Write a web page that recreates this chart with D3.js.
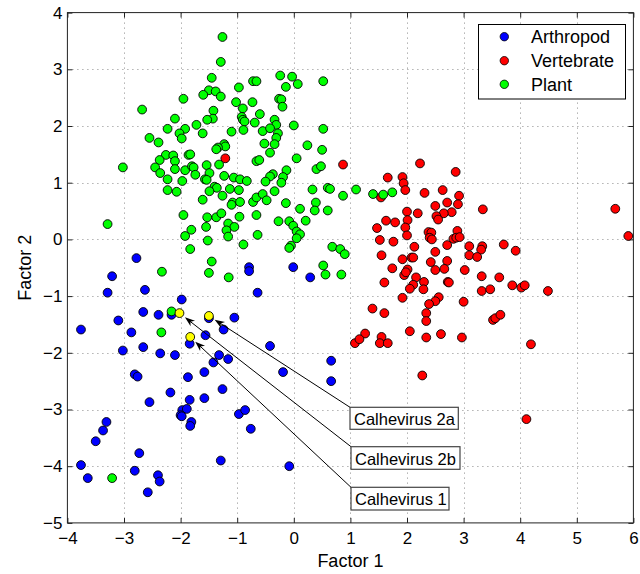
<!DOCTYPE html>
<html><head><meta charset="utf-8">
<script src="https://cdn.jsdelivr.net/npm/d3@7"></script>
<style>
body{margin:0;background:#fff;}
svg{display:block;font-family:"Liberation Sans",Arial,Helvetica,sans-serif;}
</style>
</head><body>
<svg id="chart" width="640" height="574"></svg>
<script>
const xTicks = [-4,-3,-2,-1,0,1,2,3,4,5,6];
const yTicks = [-5,-4,-3,-2,-1,0,1,2,3,4];
const xLabel = "Factor 1";
const yLabel = "Factor 2";
const seriesNames = ["Arthropod","Vertebrate","Plant"];
const seriesColors = ["#0000ff","#ff0000","#00ff00"];

const arthropod = [[-2.78,-0.33],[-3.21,-0.65],[-3.29,-0.94],[-2.63,-0.89],[-0.79,-0.49],[-0.79,-0.56],[-0.01,-0.49],[0.29,-0.67],[-0.64,-0.94],[-1.98,-1.06],[-2.66,-1.28],[-2.39,-1.33],[-2.16,-1.33],[-3.10,-1.43],[-1.05,-1.38],[-3.76,-1.59],[-2.87,-1.64],[-1.24,-1.59],[-1.56,-1.69],[-1.84,-1.84],[-0.42,-1.88],[-3.02,-1.96],[-2.66,-1.90],[-2.36,-2.01],[-2.10,-2.04],[-1.32,-2.04],[-1.16,-2.11],[-1.42,-2.17],[-1.58,-2.34],[-0.19,-2.34],[-2.81,-2.38],[-2.76,-2.42],[-1.87,-2.43],[-1.26,-2.64],[-2.18,-2.70],[-2.55,-2.87],[-1.84,-2.83],[-1.58,-2.80],[-1.97,-3.01],[-1.89,-2.99],[-2.00,-3.10],[-1.98,-3.12],[-1.81,-3.22],[-1.83,-3.29],[-0.97,-3.08],[-0.86,-3.01],[-0.76,-3.34],[-3.31,-3.22],[-3.37,-3.37],[-3.50,-3.56],[-2.73,-3.77],[-1.29,-3.90],[-3.76,-3.98],[-3.64,-4.21],[-2.81,-4.08],[-2.40,-4.16],[-2.37,-4.27],[-2.58,-4.46],[-0.08,-4.00],[0.66,-2.14],[0.66,-2.50],[-1.50,-1.39]];

const vertebrate = [[-1.21,1.43],[0.87,1.32],[2.23,1.34],[2.86,1.19],[1.66,1.09],[1.92,1.10],[1.94,0.99],[1.97,0.87],[1.54,0.74],[2.31,0.82],[2.63,0.87],[2.92,0.77],[2.90,0.62],[2.71,0.65],[2.50,0.59],[3.34,0.53],[2.00,0.49],[2.19,0.46],[2.79,0.48],[2.65,0.46],[2.52,0.41],[2.55,0.35],[5.68,0.54],[5.91,0.06],[2.01,0.34],[1.63,0.33],[1.79,0.30],[1.97,0.21],[1.47,0.20],[2.38,0.13],[2.43,0.12],[2.40,0.03],[2.44,0.00],[2.89,0.15],[2.82,0.01],[2.87,0.03],[2.93,0.04],[2.00,0.07],[1.52,-0.01],[1.76,-0.04],[2.71,-0.10],[3.10,-0.12],[3.33,-0.12],[3.31,-0.18],[3.71,-0.09],[3.92,-0.20],[2.13,-0.13],[2.50,-0.22],[1.55,-0.28],[2.08,-0.32],[2.11,-0.32],[1.92,-0.35],[3.10,-0.28],[3.24,-0.31],[2.71,-0.38],[2.42,-0.40],[2.01,-0.53],[1.74,-0.51],[2.50,-0.54],[2.66,-0.52],[3.02,-0.54],[1.95,-0.63],[1.98,-0.58],[2.16,-0.67],[3.32,-0.65],[3.63,-0.67],[1.60,-0.76],[2.30,-0.75],[2.72,-0.75],[2.74,-0.76],[2.11,-0.80],[2.05,-0.87],[2.29,-0.88],[3.32,-0.91],[3.47,-0.88],[3.86,-0.81],[4.02,-0.85],[4.08,-0.81],[4.49,-0.91],[1.92,-1.03],[2.56,-1.02],[2.50,-1.09],[2.39,-1.14],[3.00,-1.10],[1.39,-1.22],[1.60,-1.30],[2.34,-1.30],[2.34,-1.44],[3.52,-1.42],[3.56,-1.39],[3.65,-1.33],[1.26,-1.66],[2.05,-1.62],[1.55,-1.72],[1.52,-1.83],[1.66,-1.83],[2.34,-1.73],[2.60,-1.67],[2.97,-1.73],[4.19,-1.85],[1.08,-1.83],[1.16,-1.76],[2.27,-2.40],[4.11,-3.17]];

const plant = [[-1.26,3.57],[-1.29,3.13],[-1.45,2.85],[-1.50,2.63],[-1.38,2.61],[-1.60,2.55],[-1.29,2.52],[-1.95,2.48],[-0.97,2.68],[-1.02,2.42],[-0.73,2.42],[-0.72,2.79],[-0.66,2.79],[-0.90,2.31],[-1.42,2.27],[-1.43,2.13],[-1.53,2.11],[-0.92,2.16],[-0.90,2.11],[-0.87,2.08],[-0.69,2.06],[-0.60,2.21],[-2.68,2.29],[-2.10,2.13],[-2.23,1.95],[-1.92,1.95],[-1.72,2.02],[-2.02,1.87],[-1.98,1.78],[-1.61,1.87],[-0.89,1.93],[-1.10,1.90],[-2.55,1.79],[-2.39,1.71],[-1.23,1.68],[-1.21,1.64],[-1.34,1.62],[-1.37,1.59],[-1.86,1.49],[-1.83,1.50],[-1.32,1.32],[-1.54,1.31],[-0.66,1.38],[-0.61,1.40],[-2.26,1.49],[-2.13,1.48],[-2.10,1.38],[-2.37,1.40],[-3.02,1.27],[-2.45,1.27],[-2.10,1.24],[-1.92,1.22],[-1.80,1.29],[-1.77,1.27],[-1.74,1.14],[-2.36,1.17],[-1.49,1.17],[-1.23,1.12],[-1.57,1.06],[-1.54,1.05],[-1.97,1.03],[-2.23,1.06],[-1.06,1.09],[-0.95,1.06],[-0.83,1.03],[-0.14,2.69],[0.07,2.74],[0.52,2.79],[-0.24,2.89],[-0.03,2.87],[-0.26,2.48],[-0.22,2.47],[-0.20,2.34],[-0.34,2.11],[-0.31,2.02],[0.00,2.01],[0.52,1.95],[-0.55,1.91],[-0.42,1.96],[-0.28,1.87],[-0.31,1.79],[-0.52,1.69],[-0.34,1.68],[-0.42,1.53],[0.24,1.66],[0.50,1.58],[0.05,1.43],[0.40,1.24],[0.48,1.29],[-0.13,1.22],[-0.19,1.10],[-0.37,1.15],[-0.42,1.11],[-0.50,1.02],[-0.22,1.00],[0.33,0.88],[0.60,0.91],[0.64,0.89],[1.10,0.88],[1.74,0.83],[1.58,0.79],[1.40,0.80],[0.87,0.77],[-2.23,0.87],[-2.07,0.84],[-1.40,0.93],[-1.36,0.91],[-1.49,0.85],[-1.26,0.77],[-1.13,0.89],[-0.97,0.87],[-1.61,0.70],[-1.08,0.65],[-1.10,0.61],[-0.95,0.66],[-0.72,0.66],[-0.66,0.74],[-0.55,0.80],[-0.48,0.69],[-0.34,0.85],[-0.14,0.64],[0.11,0.54],[0.39,0.65],[0.37,0.51],[0.60,0.51],[-1.95,0.43],[-1.53,0.39],[-1.37,0.39],[-1.28,0.46],[-0.96,0.40],[-0.66,0.43],[-1.16,0.28],[-1.05,0.22],[-1.55,0.22],[-1.81,0.17],[-1.92,0.06],[-1.19,0.16],[-1.16,0.05],[-1.52,-0.02],[-0.64,0.08],[-0.89,-0.09],[-0.27,0.32],[-0.08,0.32],[-0.01,0.24],[0.05,0.14],[0.11,0.09],[0.05,0.02],[0.21,0.33],[-0.05,-0.11],[-0.08,-0.15],[-1.83,-0.17],[0.68,-0.13],[0.82,-0.17],[0.90,-0.26],[0.52,-0.46],[0.56,-0.62],[0.84,-0.62],[-1.45,-0.39],[-2.33,-0.57],[-1.50,-0.59],[-1.15,-0.67],[-2.16,-1.27],[-2.34,-1.64],[-3.29,0.27],[-3.21,-4.21]];

const virusNames = ["Calhevirus 2a","Calhevirus 2b","Calhevirus 1"];
const virusPts = [[-1.50,-1.35],[-2.02,-1.30],[-1.83,-1.72]];

const W = 640, H = 574;
const L = 67.4, R = 633.4, T = 12.6, B = 522.9;
const svg = d3.select("#chart");
svg.append("rect").attr("width",W).attr("height",H).attr("fill","#fff");

const x = d3.scaleLinear().domain([-4,6]).range([L,R]);
const y = d3.scaleLinear().domain([-5,4]).range([B,T]);

// grid
const grid = svg.append("g").attr("stroke","#8a8a8a").attr("stroke-width",1).attr("stroke-dasharray","1,4");
grid.selectAll("line.v").data(xTicks.slice(1,-1)).join("line")
  .attr("x1",d=>Math.round(x(d))+0.5).attr("x2",d=>Math.round(x(d))+0.5).attr("y1",T).attr("y2",B);
grid.selectAll("line.h").data(yTicks.slice(1,-1)).join("line")
  .attr("y1",d=>Math.round(y(d))+0.5).attr("y2",d=>Math.round(y(d))+0.5).attr("x1",L).attr("x2",R);

// axes
const fmt = d3.format("d");
const axB = svg.append("g").attr("transform",`translate(0,${B})`)
  .call(d3.axisBottom(x).tickValues(xTicks).tickSizeInner(-5).tickSizeOuter(0).tickPadding(9).tickFormat(fmt));
const axL = svg.append("g").attr("transform",`translate(${L},0)`)
  .call(d3.axisLeft(y).tickValues(yTicks).tickSizeInner(-5).tickSizeOuter(0).tickPadding(5).tickFormat(fmt));
const axT = svg.append("g").attr("transform",`translate(0,${T})`)
  .call(d3.axisTop(x).tickValues(xTicks).tickSizeInner(-5).tickSizeOuter(0).tickFormat(""));
const axR = svg.append("g").attr("transform",`translate(${R},0)`)
  .call(d3.axisRight(y).tickValues(yTicks).tickSizeInner(-5).tickSizeOuter(0).tickFormat(""));
[axB,axL,axT,axR].forEach(a=>{
  a.select(".domain").remove();
  a.selectAll("line").attr("stroke","#222");
  a.selectAll("text").attr("font-size",17).attr("fill","#000")
   .attr("font-family",'"Liberation Sans",Arial,Helvetica,sans-serif');
});
svg.append("rect").attr("x",L).attr("y",T).attr("width",R-L).attr("height",B-T)
  .attr("fill","none").attr("stroke","#222").attr("stroke-width",1);

// axis labels
svg.append("text").attr("x",(L+R)/2).attr("y",567).attr("text-anchor","middle")
  .attr("font-size",18).text(xLabel);
svg.append("text").attr("transform",`translate(31,${(T+B)/2}) rotate(-90)`).attr("text-anchor","middle")
  .attr("font-size",18).text(yLabel);

// points
const r = 4.4;
const layers = [arthropod, vertebrate, plant];
layers.forEach((pts,i)=>{
  svg.append("g").selectAll("circle").data(pts).join("circle")
    .attr("cx",d=>x(d[0])).attr("cy",d=>y(d[1])).attr("r",r)
    .attr("fill",seriesColors[i]).attr("stroke","#000").attr("stroke-width",0.9);
});
svg.append("g").selectAll("circle").data(virusPts).join("circle")
  .attr("cx",d=>x(d[0])).attr("cy",d=>y(d[1])).attr("r",r)
  .attr("fill","#ffff00").attr("stroke","#000").attr("stroke-width",0.9);

// annotations
const boxes = [
  {x:350, y:407.3, w:108.3, h:22},
  {x:351, y:446.7, w:109, h:22.6},
  {x:351, y:487.3, w:98, h:22.7}
];
virusNames.forEach((name,i)=>{
  const b = boxes[i];
  const px = x(virusPts[i][0]), py = y(virusPts[i][1]);
  const dx = b.x - px, dy = b.y - py, len = Math.hypot(dx,dy);
  const ux = dx/len, uy = dy/len;
  const tx = px + ux*(r+2.5), ty = py + uy*(r+2.5);
  svg.append("line").attr("x1",b.x).attr("y1",b.y).attr("x2",tx+ux*6).attr("y2",ty+uy*6)
    .attr("stroke","#000").attr("stroke-width",1);
  const AL = 10, AW = 3.6, nx = -uy, ny = ux;
  const p = [[tx,ty],[tx+ux*AL+nx*AW, ty+uy*AL+ny*AW],[tx+ux*(AL-3), ty+uy*(AL-3)],[tx+ux*AL-nx*AW, ty+uy*AL-ny*AW]];
  svg.append("path").attr("d","M"+p.map(q=>q.join(",")).join("L")+"Z").attr("fill","#000");
  svg.append("rect").attr("x",b.x).attr("y",b.y).attr("width",b.w).attr("height",b.h)
    .attr("fill","#fff").attr("stroke","#444").attr("stroke-width",1.2);
  svg.append("text").attr("x",b.x+4).attr("y",b.y+18).attr("font-size",16.5).attr("fill","#000").text(name);
});

// legend
const lg = svg.append("g");
lg.append("rect").attr("x",478.5).attr("y",24.5).attr("width",147).attr("height",74.5)
  .attr("fill","#fff").attr("stroke","#000").attr("stroke-width",1);
const rowY = [36.7,60.7,84.3];
seriesNames.forEach((n,i)=>{
  lg.append("circle").attr("cx",504.3).attr("cy",rowY[i]).attr("r",4.2)
    .attr("fill",seriesColors[i]).attr("stroke","#000").attr("stroke-width",0.8);
  lg.append("text").attr("x",531).attr("y",rowY[i]).attr("dy","0.36em").attr("font-size",18).text(n);
});
</script>
</body></html>
